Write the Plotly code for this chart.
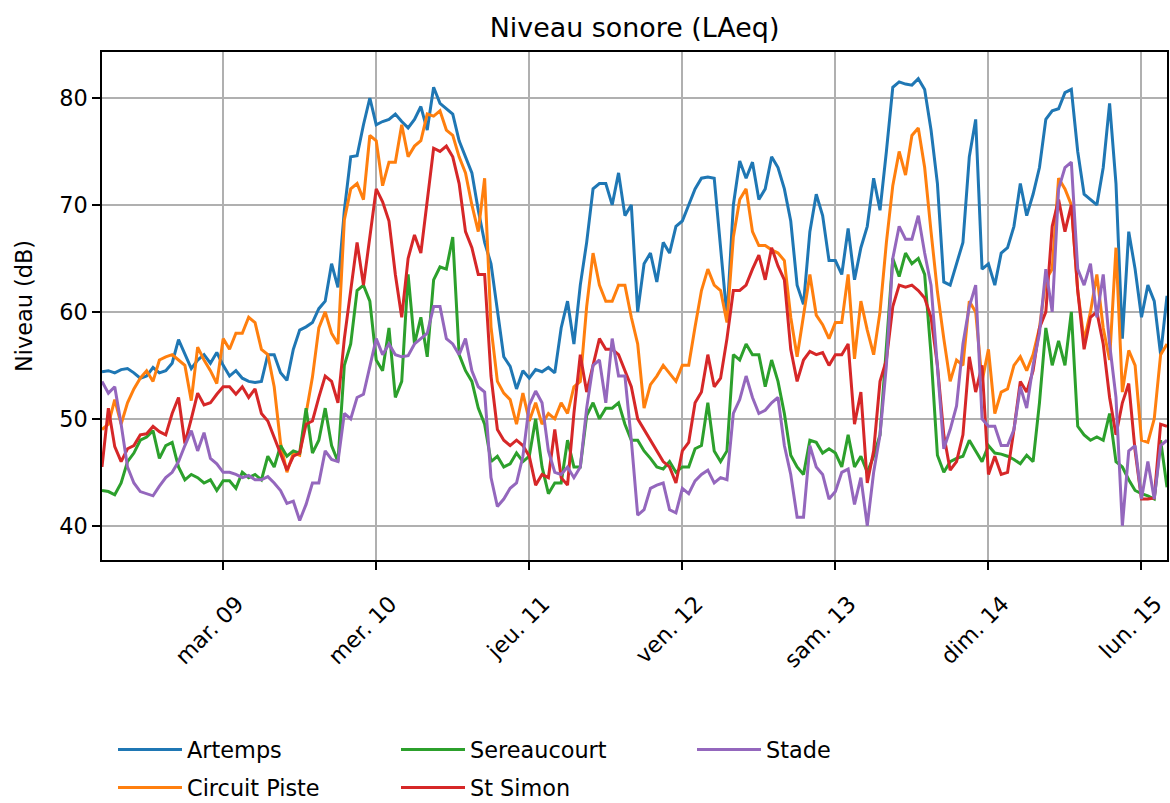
import pandas as pd
import plotly.graph_objects as go

# ---------------- data (hourly LAeq, dB) ----------------
start_time = "2021-03-08 05:00"
n_hours = 168

artemps = [
    54.4, 54.5, 54.3, 54.6, 54.7, 54.3, 53.8, 54.0, 54.8, 54.3, 54.5, 55.2, 57.4, 56.0, 54.7, 55.5, 56.0, 55.2, 56.2, 55.0,
    54.0, 54.5, 53.8, 53.5, 53.4, 53.5, 56.0, 56.0, 54.3, 53.6, 56.5, 58.3, 58.6, 59.0, 60.3, 61.0, 64.5, 62.3, 69.5, 74.5, 74.6, 77.5, 80.0,
    77.5, 77.8, 78.0, 78.5, 77.8, 77.2, 78.0, 79.2, 77.0, 81.0, 79.5, 79.0, 78.5, 76.0, 74.5, 73.0, 69.5, 66.5, 64.5, 60.0, 55.8,
    54.9, 52.8, 54.5, 53.8, 54.6, 54.4, 54.8, 54.3, 58.5, 61.0, 57.0, 62.5, 66.5, 71.5, 72.0, 72.0, 70.0, 73.0, 69.0, 70.0, 60.0,
    64.5, 65.5, 62.8, 66.5, 65.5, 68.0, 68.5, 70.0, 71.5, 72.5, 72.6, 72.5, 66.0, 59.5, 70.0, 74.1, 72.5, 74.0, 70.5, 71.5, 74.5,
    73.5, 71.5, 68.5, 62.5, 60.7, 67.5, 71.0, 69.0, 64.8, 64.8, 63.5, 67.8, 63.0, 66.0, 68.0, 72.5, 69.5, 75.0, 81.0, 81.5, 81.3,
    81.2, 81.8, 80.8, 77.0, 72.0, 62.8, 62.5, 64.5, 66.5, 74.5, 78.0, 64.0, 64.5, 62.5, 65.5, 66.0, 68.0, 72.0, 69.0, 71.0, 73.5,
    78.0, 78.8, 79.0, 80.5, 80.8, 75.0, 71.0, 70.5, 70.0, 73.5, 79.5, 72.0, 57.5, 67.5, 64.0, 59.5, 62.5, 61.0, 56.0, 61.5,
]

circuit_piste = [
    49.0, 49.5, 51.8, 49.5, 51.5, 52.8, 53.8, 54.5, 53.5, 55.5, 55.8, 56.0, 55.5, 55.0, 51.7, 56.7, 55.5, 54.5, 53.3, 57.5,
    56.5, 58.0, 58.0, 59.5, 59.0, 56.5, 56.0, 53.0, 47.7, 45.0, 46.8, 46.6, 50.5, 53.9, 58.5, 60.0, 58.0, 57.0, 68.6, 71.5, 72.0, 70.5, 76.5,
    76.0, 71.8, 74.0, 74.0, 77.5, 74.5, 75.5, 76.0, 78.5, 78.3, 78.8, 77.0, 76.5, 74.5, 73.0, 70.0, 67.5, 72.5, 58.6, 53.5, 52.4,
    51.8, 49.5, 52.4, 49.8, 51.5, 49.5, 50.5, 50.0, 51.5, 50.5, 53.0, 53.5, 60.5, 65.5, 62.5, 61.0, 61.0, 62.5, 62.5, 59.5, 57.0,
    51.0, 53.2, 54.0, 55.0, 54.3, 53.5, 55.0, 55.0, 58.6, 62.0, 64.0, 62.5, 62.0, 59.0, 67.0, 70.5, 71.5, 67.5, 66.2, 66.2, 65.8,
    65.5, 64.8, 59.5, 55.8, 59.5, 63.5, 59.7, 58.8, 57.5, 59.0, 59.0, 63.5, 55.6, 61.0, 58.3, 56.0, 60.0, 66.5, 71.8, 75.0, 72.8,
    76.5, 77.2, 73.5, 67.5, 61.9, 57.5, 53.5, 55.5, 55.0, 61.0, 60.0, 53.5, 56.5, 50.5, 52.5, 52.8, 55.0, 55.8, 54.5, 56.0, 58.5,
    63.0, 64.0, 72.5, 71.5, 70.0, 62.0, 57.3, 60.0, 63.5, 58.5, 55.5, 66.0, 52.5, 56.4, 55.0, 48.0, 47.8, 50.0, 56.0, 57.0,
]

sereaucourt = [
    43.3, 43.2, 42.9, 44.0, 46.0, 46.8, 48.0, 48.3, 48.9, 46.3, 47.5, 47.8, 45.5, 44.3, 44.8, 44.5, 44.0, 44.3, 43.3, 44.2,
    44.2, 43.5, 45.0, 44.5, 44.8, 44.3, 46.5, 45.5, 47.5, 46.5, 47.0, 46.8, 51.0, 46.8, 48.0, 51.0, 47.5, 46.0, 55.0, 57.0, 62.0, 62.5, 61.0,
    55.5, 54.5, 58.5, 52.0, 53.5, 63.5, 57.0, 59.5, 55.8, 63.0, 64.2, 64.0, 67.0, 56.0, 54.5, 53.5, 51.0, 49.5, 46.0, 46.5, 45.5,
    45.8, 46.8, 46.0, 46.5, 50.0, 45.5, 43.0, 44.0, 44.0, 48.0, 45.5, 45.5, 50.3, 51.5, 50.0, 51.0, 51.0, 51.5, 49.5, 48.0, 48.0,
    47.0, 46.3, 45.5, 45.3, 46.0, 45.0, 45.5, 45.5, 47.2, 47.5, 51.5, 47.0, 46.0, 47.0, 56.0, 55.5, 57.0, 56.0, 56.0, 53.0, 55.5,
    53.5, 50.5, 46.6, 45.5, 44.8, 48.0, 47.8, 46.8, 47.2, 46.8, 45.5, 48.5, 45.5, 46.5, 45.0, 46.5, 48.5, 57.0, 65.0, 63.3, 65.5,
    64.5, 65.0, 63.5, 56.0, 46.6, 45.0, 46.0, 46.3, 46.5, 48.0, 47.0, 46.0, 47.5, 46.8, 46.7, 46.5, 46.2, 45.8, 46.6, 46.0, 51.5,
    58.5, 55.0, 57.3, 55.0, 60.0, 49.3, 48.5, 48.0, 48.3, 48.0, 50.5, 46.0, 45.5, 44.3, 43.3, 43.0, 42.8, 42.5, 48.0, 43.6,
]

st_simon = [
    45.5, 51.0, 47.4, 46.0, 47.2, 47.5, 48.5, 48.6, 49.3, 48.8, 48.5, 50.5, 52.0, 47.7, 50.0, 52.4, 51.3, 51.5, 52.3, 53.0,
    53.0, 52.3, 53.0, 52.0, 52.8, 50.5, 49.8, 48.2, 46.8, 45.2, 46.5, 46.8, 49.5, 49.8, 52.0, 54.0, 53.5, 51.5, 57.5, 62.0, 66.5, 62.5, 67.0,
    71.5, 70.3, 68.5, 63.5, 59.5, 65.0, 67.2, 65.5, 70.6, 75.3, 75.0, 75.5, 74.5, 72.0, 67.5, 66.0, 63.5, 63.5, 54.0, 49.0, 48.0,
    47.5, 48.0, 47.5, 46.5, 43.8, 44.8, 44.5, 49.0, 44.5, 43.8, 50.5, 56.0, 52.5, 55.0, 57.5, 56.5, 56.5, 56.0, 54.5, 53.0, 50.0,
    49.0, 48.0, 47.0, 46.0, 45.5, 44.0, 47.0, 47.8, 51.5, 52.5, 56.0, 53.0, 53.8, 57.5, 62.0, 62.0, 62.5, 64.0, 65.3, 63.0, 66.0,
    64.3, 63.0, 56.5, 53.5, 55.5, 56.3, 56.0, 56.2, 55.0, 56.0, 56.0, 57.0, 49.5, 52.5, 44.0, 47.0, 53.5, 55.5, 60.5, 62.5, 62.3,
    62.5, 62.0, 61.3, 59.5, 55.0, 48.5, 45.2, 46.0, 48.5, 55.8, 52.5, 55.0, 44.8, 46.5, 44.8, 45.0, 49.0, 53.5, 52.5, 54.5, 58.5,
    60.0, 68.0, 70.5, 67.5, 70.0, 62.0, 56.5, 59.5, 60.0, 57.0, 52.0, 48.5, 51.5, 53.3, 47.0, 42.5, 42.5, 42.6, 49.5, 49.3,
]

stade = [
    53.5, 52.4, 53.0, 49.5, 45.5, 44.0, 43.2, 43.0, 42.8, 43.7, 44.5, 45.0, 46.0, 47.5, 48.9, 47.0, 48.7, 46.3, 45.8, 45.0,
    45.0, 44.8, 44.5, 44.7, 44.3, 44.3, 44.6, 44.0, 43.3, 42.1, 42.3, 40.5, 42.0, 44.0, 44.0, 47.0, 46.2, 46.0, 50.5, 50.0, 52.0, 52.3, 55.0,
    57.5, 56.0, 57.0, 56.0, 55.8, 55.9, 57.0, 57.5, 58.0, 60.5, 60.5, 57.5, 57.0, 56.0, 57.5, 54.5, 53.0, 52.5, 44.5, 41.8, 42.5,
    43.5, 44.0, 46.5, 51.3, 52.6, 51.5, 47.0, 45.0, 44.8, 45.5, 44.5, 45.5, 51.0, 55.0, 55.5, 51.5, 57.5, 54.0, 54.0, 48.0, 41.0,
    41.5, 43.5, 43.8, 44.0, 41.5, 41.2, 43.5, 43.0, 44.2, 44.8, 45.2, 44.0, 44.5, 44.3, 50.5, 51.8, 54.0, 52.0, 50.5, 50.8, 51.5,
    52.0, 47.5, 44.8, 40.8, 40.8, 47.5, 45.5, 44.8, 42.5, 43.2, 45.0, 45.3, 42.0, 44.5, 40.0, 45.0, 48.5, 55.0, 65.0, 68.0, 66.8,
    66.8, 69.0, 65.5, 62.5, 55.0, 47.2, 49.0, 51.2, 57.0, 60.5, 62.5, 50.0, 49.3, 49.3, 47.5, 47.5, 49.0, 53.0, 51.0, 55.0, 58.0,
    64.0, 60.0, 71.5, 73.5, 74.0, 64.0, 62.5, 64.5, 59.5, 63.5, 57.0, 52.0, 40.0, 47.0, 47.5, 42.5, 46.0, 42.5, 47.5, 48.0,
]

series_names = ["Artemps", "Circuit Piste", "Sereaucourt", "St Simon", "Stade"]
series_values = [artemps, circuit_piste, sereaucourt, st_simon, stade]
series_colors = ["#1f77b4", "#ff7f0e", "#2ca02c", "#d62728", "#9467bd"]

tick_dates = ["2021-03-09", "2021-03-10", "2021-03-11", "2021-03-12",
              "2021-03-13", "2021-03-14", "2021-03-15"]
tick_labels = ["mar. 09", "mer. 10", "jeu. 11", "ven. 12", "sam. 13", "dim. 14", "lun. 15"]
y_ticks = [40, 50, 60, 70, 80]

# ---------------- figure ----------------
times = pd.date_range(start_time, periods=n_hours, freq="h")

FONT = "DejaVu Sans"
FS = 22.4
W, H = 1170, 803
ML, MR, MT, MB = 102, 3, 52, 243
PW, PH = W - ML - MR, H - MT - MB

def px_x(p):
    return (p - ML) / PW

def px_y(p):
    return (H - MB - p) / PH

# legend placement (column, row) for each series
legend_slots = [(113, 750), (113, 788), (396, 750), (396, 788), (692, 750)]
legend_ids = ["legend", "legend2", "legend3", "legend4", "legend5"]

fig = go.Figure()
for name, vals, col, lid in zip(series_names, series_values, series_colors, legend_ids):
    fig.add_trace(go.Scatter(
        x=times, y=vals, mode="lines", name=name,
        line=dict(color=col, width=3),
        legend=lid,
    ))

layout_legends = {}
for lid, (lx, ly) in zip(legend_ids, legend_slots):
    layout_legends[lid] = dict(
        x=px_x(lx), y=px_y(ly), xanchor="left", yanchor="middle",
        bgcolor="rgba(0,0,0,0)", borderwidth=0, itemwidth=64,
        font=dict(family=FONT, size=FS, color="black"),
    )

fig.update_layout(
    width=W, height=H,
    margin=dict(l=ML, r=MR, t=MT, b=MB, autoexpand=False),
    paper_bgcolor="white", plot_bgcolor="white",
    font=dict(family=FONT, size=FS, color="black"),
    title=dict(text="Niveau sonore (LAeq)", xref="paper", x=0.5, xanchor="center",
               yref="container", y=1 - 28 / H, yanchor="middle",
               font=dict(family=FONT, size=26.9, color="black")),
    showlegend=True,
    **layout_legends,
)

fig.update_xaxes(
    range=[times[0], times[-1]],
    tickvals=pd.to_datetime(tick_dates), ticktext=tick_labels,
    tickangle=-45, ticks="outside", ticklen=8, tickwidth=1.5, tickcolor="black",
    ticklabelshift=14, ticklabelstandoff=12, ticklabeloverflow="allow",
    showgrid=True, gridcolor="#b0b0b0", gridwidth=1.6,
    showline=True, linecolor="black", linewidth=1.6, mirror=True,
    zeroline=False, automargin=False,
    tickfont=dict(family=FONT, size=FS, color="black"),
)
fig.update_yaxes(
    range=[36.8, 84.3], tickvals=y_ticks,
    ticks="outside", ticklen=8, tickwidth=1.5, tickcolor="black",
    showgrid=True, gridcolor="#b0b0b0", gridwidth=1.6,
    showline=True, linecolor="black", linewidth=1.6, mirror=True,
    zeroline=False, automargin=False,
    tickfont=dict(family=FONT, size=FS, color="black"),
    title=dict(text="Niveau (dB)", font=dict(family=FONT, size=FS, color="black"), standoff=20),
)

fig.write_html(
    "out.html",
    config={"displayModeBar": False},
    post_script="document.body.style.margin='0';document.body.style.padding='0';"
                "document.documentElement.style.overflow='hidden';",
)
